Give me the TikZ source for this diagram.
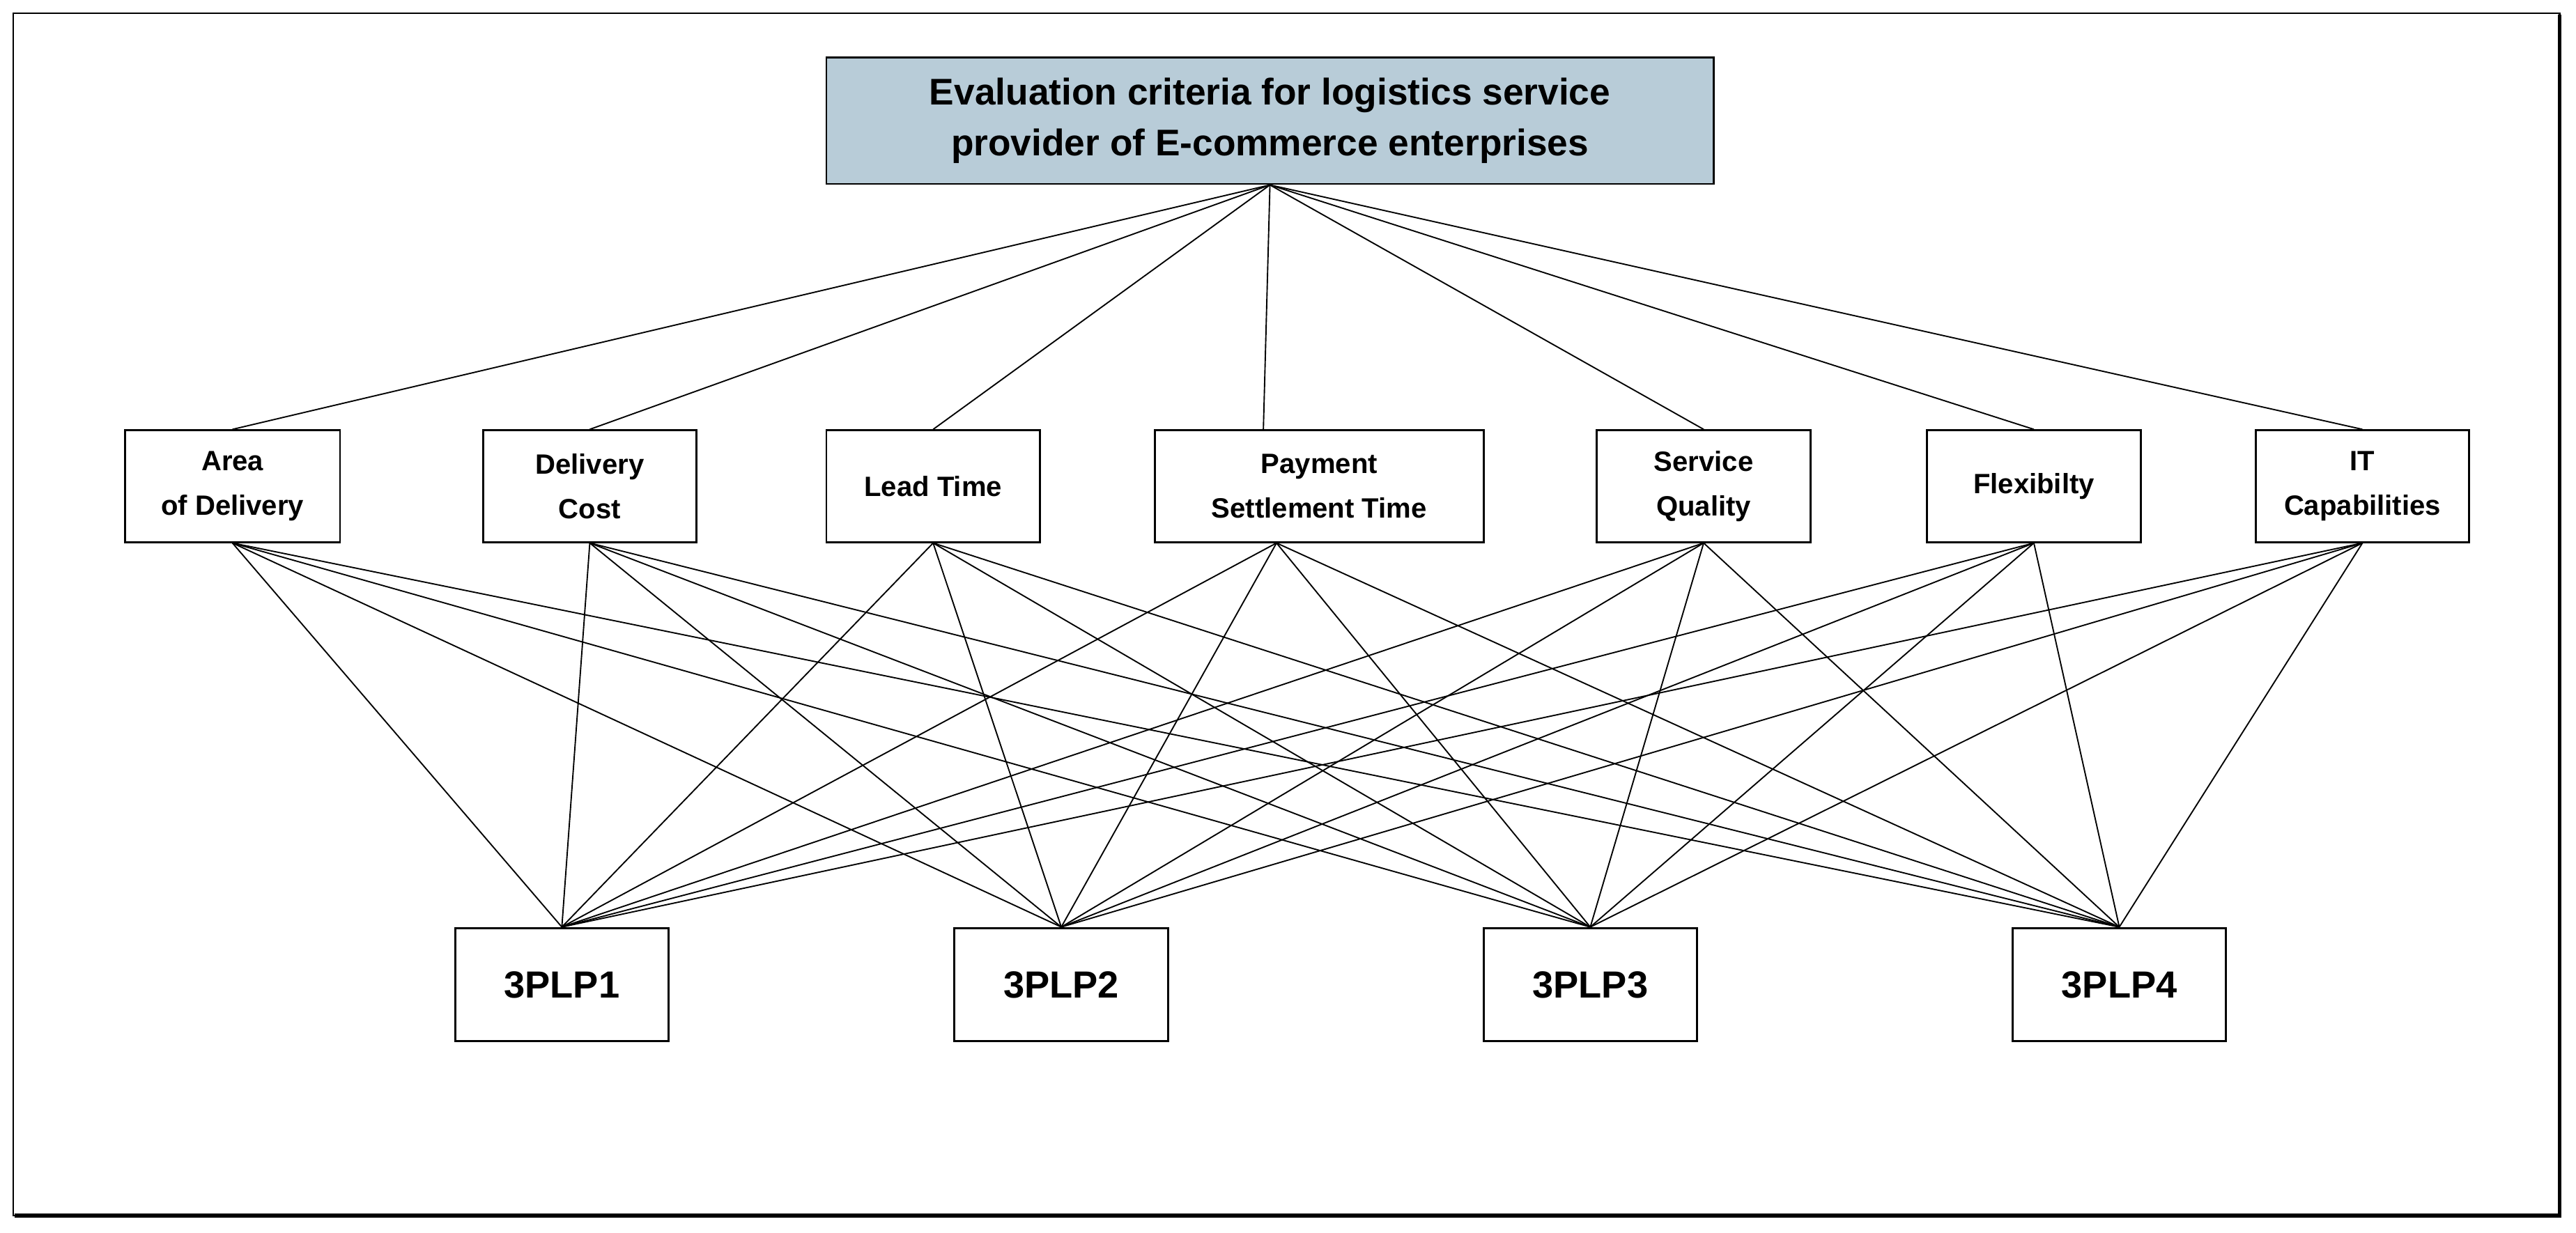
\documentclass[tikz,border=0pt]{standalone}
\usepackage{fontspec}
\setmainfont{Liberation Sans}
\begin{document}
\begin{tikzpicture}[x=0.5pt,y=-0.5pt,
 box/.style={draw,line width=0.6pt,inner sep=0pt,align=center,font=\bfseries\fontsize{8.5}{13.5}\selectfont},
 alt/.style={box,font=\bfseries\fontsize{11.5}{13}\selectfont},
 ln/.style={line width=0.4pt}]
\useasboundingbox (0,0) rectangle (1568,750.3);
\fill[white] (0,0) rectangle (1568,750.3);
\draw[line width=0.5pt] (8,8) rectangle (1558,740);
\draw[line width=1.2pt] (1558,9) -- (1558,740) -- (9,740);
\node[box,fill={rgb,255:red,184;green,204;blue,216},minimum width=270pt,minimum height=38.5pt,font=\bfseries\fontsize{11.3}{15.5}\selectfont] (top) at (773,73.5) {Evaluation criteria for logistics service\\provider of E-commerce enterprises};
\foreach \n/\x/\w/\t in {c1/141.5/65.5/{Area\\of Delivery},c2/359/65/{Delivery\\Cost},c3/568/65/{Lead Time},c4/803/100/{Payment\\Settlement Time},c5/1037/65/{Service\\Quality},c6/1238/65/{Flexibilty},c7/1438/65/{IT\\Capabilities}}
  \node[box,minimum width=\w pt,minimum height=34pt] (\n) at (\x,296) {\t};
\coordinate (c4t) at ([xshift=-17pt]c4.north);
\coordinate (c4b) at ([xshift=-13pt]c4.south);
\foreach \n/\x/\t in {a1/342/3PLP1,a2/646/3PLP2,a3/968/3PLP3,a4/1290/3PLP4}
  \node[alt,minimum width=65pt,minimum height=34.5pt] (\n) at (\x,599.5) {\t};
\foreach \c in {c1,c2,c3,c5,c6,c7} {
  \draw[ln] (top.south) -- (\c.north);
  \foreach \a in {a1,a2,a3,a4} \draw[ln] (\c.south) -- (\a.north);
}
\draw[ln] (top.south) -- (c4t);
\foreach \a in {a1,a2,a3,a4} \draw[ln] (c4b) -- (\a.north);
\end{tikzpicture}
\end{document}
